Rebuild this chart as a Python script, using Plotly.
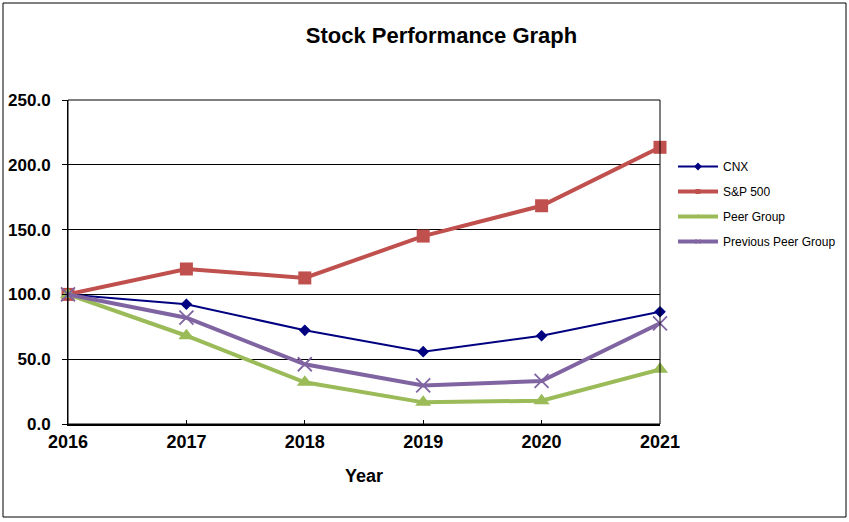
import plotly.graph_objects as go

years = [2016, 2017, 2018, 2019, 2020, 2021]
cnx = [100.0, 92.4, 72.3, 55.8, 68.1, 86.6]
sp500 = [100.0, 119.6, 112.7, 145.0, 168.4, 213.5]
peer = [100.0, 68.1, 32.2, 16.7, 18.0, 42.2]
prev_peer = [100.0, 82.0, 46.1, 29.8, 33.2, 77.7]
y_ticks = [0, 50, 100, 150, 200, 250]

FONT = "Liberation Sans, Arial, sans-serif"

series = [
    dict(name="CNX", y=cnx, color="#000080", width=2, symbol="diamond", size=9, lsize=6),
    dict(name="S&P 500", y=sp500, color="#C0504D", width=4, symbol="square", size=13, lsize=5),
    dict(name="Peer Group", y=peer, color="#9BBB59", width=4, symbol="triangle-up", size=14, lsize=5),
    dict(name="Previous Peer Group", y=prev_peer, color="#8064A2", width=4, symbol="x-thin", size=14, lsize=5),
]

fig = go.Figure()

for i, s in enumerate(series):
    mk = dict(symbol=s["symbol"], size=s["size"], color=s["color"])
    lmk = dict(symbol=s["symbol"], size=s["lsize"], color=s["color"])
    if s["symbol"] == "x-thin":
        mk["line"] = dict(color=s["color"], width=1.8)
        lmk["line"] = dict(color=s["color"], width=1)
    fig.add_trace(go.Scatter(
        x=years, y=s["y"], name=s["name"], mode="lines+markers", showlegend=False,
        line=dict(color=s["color"], width=s["width"]), marker=mk, cliponaxis=False))
    # legend entry (no data, smaller marker like the original legend)
    fig.add_trace(go.Scatter(
        x=[None], y=[None], name=s["name"], mode="lines+markers", legendgroup=f"g{i}",
        line=dict(color=s["color"], width=s["width"]), marker=lmk))

L, R, T, B = 68, 660, 100, 424
W, H = 849, 522

def px_x(p):
    return (p - L) / (R - L)

def px_y(p):
    return (B - p) / (B - T)

fig.update_layout(
    width=W, height=H,
    margin=dict(l=L, r=W - R, t=T, b=H - B, autoexpand=False),
    paper_bgcolor="white", plot_bgcolor="white",
    font=dict(family=FONT, color="black"),
    showlegend=True,
    legend=dict(x=px_x(673), y=px_y(152), xanchor="left", yanchor="top",
                font=dict(size=12, family=FONT, color="black"),
                bgcolor="rgba(0,0,0,0)", tracegroupgap=6, itemwidth=40),
    title=dict(text="<b>Stock Performance Graph</b>", x=441.5 / W, xref="container",
               xanchor="center", y=1 - 35 / H, yref="container", yanchor="middle",
               font=dict(size=22, family=FONT, color="black")),
    xaxis=dict(range=[2016, 2021], tickmode="array", tickvals=years,
               ticktext=[f"<b>{y}</b>" for y in years],
               tickfont=dict(size=18, family=FONT, color="black"),
               showgrid=False, zeroline=False,
               showline=True, linecolor="black", linewidth=2,
               ticks="inside", ticklen=4, tickcolor="black", tickwidth=1,
               fixedrange=True),
    yaxis=dict(range=[0, 250], tickmode="array", tickvals=y_ticks,
               ticktext=[f"<b>{v:.1f}</b>" for v in y_ticks],
               tickfont=dict(size=17, family=FONT, color="black"),
               showgrid=True, gridcolor="black", gridwidth=1, zeroline=False,
               showline=True, linecolor="black", linewidth=1,
               ticks="outside", ticklen=5, tickcolor="black", tickwidth=1,
               ticklabelstandoff=8, fixedrange=True),
    shapes=[
        dict(type="rect", xref="paper", yref="paper", x0=0, x1=1, y0=0, y1=1,
             line=dict(color="black", width=1), fillcolor="rgba(0,0,0,0)", layer="above"),
        dict(type="rect", xref="paper", yref="paper",
             x0=px_x(3), x1=px_x(846), y0=px_y(517), y1=px_y(3),
             line=dict(color="black", width=1), fillcolor="rgba(0,0,0,0)", layer="below"),
    ],
    annotations=[
        dict(text="<b>Year</b>", x=px_x(364), y=px_y(476), xref="paper", yref="paper",
             xanchor="center", yanchor="middle", showarrow=False,
             font=dict(size=18, family=FONT, color="black")),
    ],
)

fig.write_html("out.html", config={"displayModeBar": False},
               post_script="document.body.style.margin='0';document.body.style.padding='0';")
